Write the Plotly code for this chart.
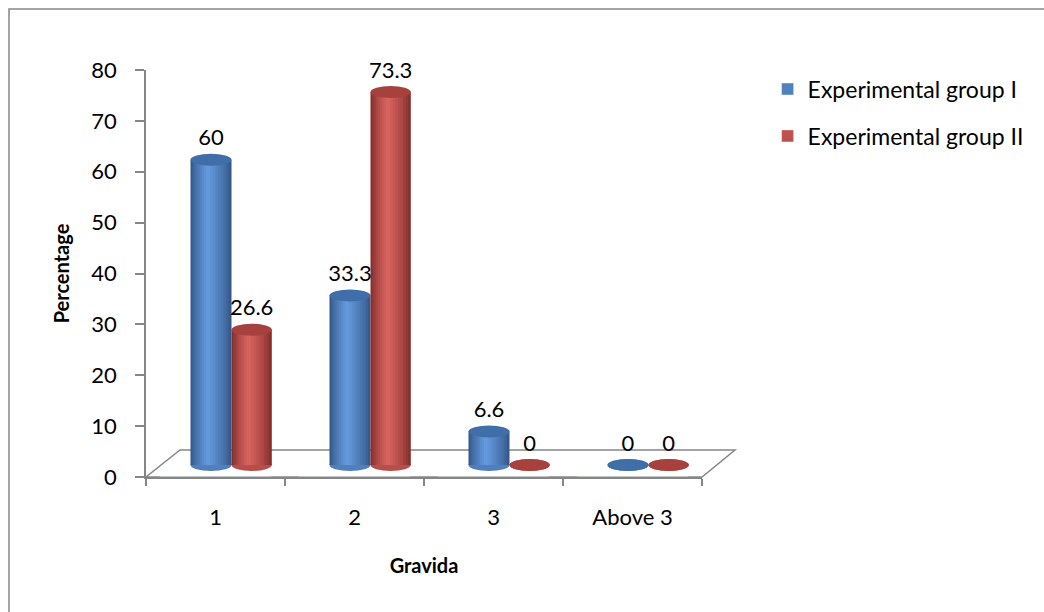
import plotly.graph_objects as go

# Gravida distribution (percentage) for the two experimental groups
categories = ["1", "2", "3", "Above 3"]
group_1 = [60, 33.3, 6.6, 0]
group_2 = [26.6, 73.3, 0, 0]
series_names = ["Experimental group I", "Experimental group II"]

FONT = "Lato"
AXIS_GREY = "#868686"

# Plot area in pixels (used for the perspective floor / frame)
W, H = 1044, 612
L_PX, R_PX, T_PX, B_PX = 146, 702, 70, 477
PW, PH = R_PX - L_PX, B_PX - T_PX
PX_PER_UNIT = PH / 80.0
DEPTH_DY = 12      # bars stand half way back on the floor
DEPTH_DX = 16


def px_to_paper(px, py):
    return (px - L_PX) / PW, (B_PX - py) / PH


def hex_to_rgb(h):
    h = h.lstrip("#")
    return tuple(int(h[i:i + 2], 16) for i in (0, 2, 4))


def mix(c1, c2, t):
    a, b = hex_to_rgb(c1), hex_to_rgb(c2)
    return "rgb(%d,%d,%d)" % tuple(round(a[i] + (b[i] - a[i]) * t) for i in range(3))


# colour styles: dark edge, highlight, cap, legend/base, and slot within a category
styles = [
    dict(edge="#35598a", hi="#6398dc", cap="#3f6ea9", base="#4f81bd", left=-0.295, width=0.295),
    dict(edge="#86302e", hi="#d6625e", cap="#a7413e", base="#c0504d", left=0.0, width=0.29),
]
values = [group_1, group_2]

cat_pos = list(range(len(categories)))
unit_per_px_x = 1.0 / (PW / len(categories))
x2_shift = DEPTH_DX * unit_per_px_x
y2_shift = DEPTH_DY / PX_PER_UNIT
cap_half = 6 / PX_PER_UNIT
label_gap = 9 / PX_PER_UNIT

fig = go.Figure()

# invisible trace so the category axis is laid out
fig.add_trace(go.Bar(x=categories, y=[0] * len(categories), showlegend=False,
                     hoverinfo="skip", marker_color="rgba(0,0,0,0)"))

shapes = []
N_LAYERS = 9
for s, (st, vals, name) in enumerate(zip(styles, values, series_names)):
    left, wid = st["left"], st["width"]
    hl = left + 0.42 * wid
    for j in range(N_LAYERS):
        f = 1 - j / N_LAYERS
        lo = hl - f * (hl - left)
        hi = hl + f * (left + wid - hl)
        t = (j / (N_LAYERS - 1)) ** 0.8
        fig.add_trace(go.Bar(
            x=cat_pos, y=vals, xaxis="x2", yaxis="y2",
            offset=lo, width=hi - lo,
            marker=dict(color=mix(st["edge"], st["hi"], t), line=dict(width=0)),
            showlegend=False, hoverinfo="skip",
        ))
    # legend entry
    fig.add_trace(go.Bar(
        x=[None], y=[None], xaxis="x2", yaxis="y2", name=name,
        marker=dict(color=st["base"]), legendgroup=name,
    ))
    for c, v in zip(cat_pos, vals):
        x0, x1 = c + left, c + left + wid
        # rounded bottom of the cylinder
        shapes.append(dict(type="circle", xref="x2", yref="y2", layer="below",
                           x0=x0, x1=x1, y0=-cap_half, y1=cap_half,
                           fillcolor=mix(st["edge"], st["hi"], 0.6), line=dict(width=0)))
        # top cap
        shapes.append(dict(type="circle", xref="x2", yref="y2", layer="above",
                           x0=x0, x1=x1, y0=v - cap_half, y1=v + cap_half,
                           fillcolor=st["cap"], line=dict(width=0)))
    # value labels
    fig.add_trace(go.Scatter(
        x=[c + left + wid / 2 for c in cat_pos], y=[v + label_gap for v in vals],
        xaxis="x2", yaxis="y2", mode="text", cliponaxis=False,
        text=[("%g" % v) for v in vals], textposition="top center",
        textfont=dict(family=FONT, size=22, color="#000000"),
        showlegend=False, hoverinfo="skip",
    ))

# perspective floor
fl = [px_to_paper(L_PX, B_PX), px_to_paper(R_PX, B_PX),
      px_to_paper(R_PX + 33, B_PX - 27), px_to_paper(L_PX + 34, B_PX - 27)]
path = "M %f %f L %f %f L %f %f L %f %f Z" % (fl[0] + fl[1] + fl[2] + fl[3])
shapes.insert(0, dict(type="path", xref="paper", yref="paper", layer="below",
                      path=path, line=dict(color=AXIS_GREY, width=1.5)))

# chart frame
fx0, fy0 = px_to_paper(9, 9)
fx1, fy1 = px_to_paper(W + 20, H + 20)
shapes.append(dict(type="rect", xref="paper", yref="paper", layer="below",
                   x0=fx0, y0=fy1, x1=fx1, y1=fy0,
                   line=dict(color=AXIS_GREY, width=1.5)))

fig.update_layout(
    width=W, height=H,
    margin=dict(l=L_PX, r=W - R_PX, t=T_PX, b=H - B_PX),
    paper_bgcolor="white", plot_bgcolor="white",
    barmode="overlay",
    font=dict(family=FONT, size=22, color="#000000"),
    shapes=shapes,
    showlegend=True,
    legend=dict(x=1.118, y=1.006, xanchor="left", yanchor="top",
                font=dict(family=FONT, size=23, color="#000000"),
                tracegroupgap=14, traceorder="grouped",
                bgcolor="rgba(0,0,0,0)"),
    xaxis=dict(
        type="category", range=[-0.5, 3.5], showgrid=False, zeroline=False,
        showline=True, linecolor=AXIS_GREY, linewidth=1.5,
        ticks="outside", ticklen=7, tickcolor=AXIS_GREY, tickwidth=1.5,
        tickson="boundaries", ticklabelstandoff=20,
        tickfont=dict(family=FONT, size=22),
        title=dict(text="<b>Gravida</b>", font=dict(family=FONT, size=20), standoff=30),
    ),
    yaxis=dict(
        range=[0, 80], dtick=10, showgrid=False, zeroline=False,
        showline=True, linecolor=AXIS_GREY, linewidth=1.5,
        ticks="outside", ticklen=9, tickcolor=AXIS_GREY, tickwidth=1.5,
        ticklabelstandoff=14,
        tickfont=dict(family=FONT, size=22),
        title=dict(text="<b>Percentage</b>", font=dict(family=FONT, size=20), standoff=16),
    ),
    xaxis2=dict(overlaying="x", range=[-0.5 - x2_shift, 3.5 - x2_shift], visible=False),
    yaxis2=dict(overlaying="y", range=[-y2_shift, 80 - y2_shift], visible=False),
)

fig.write_html("out.html")
